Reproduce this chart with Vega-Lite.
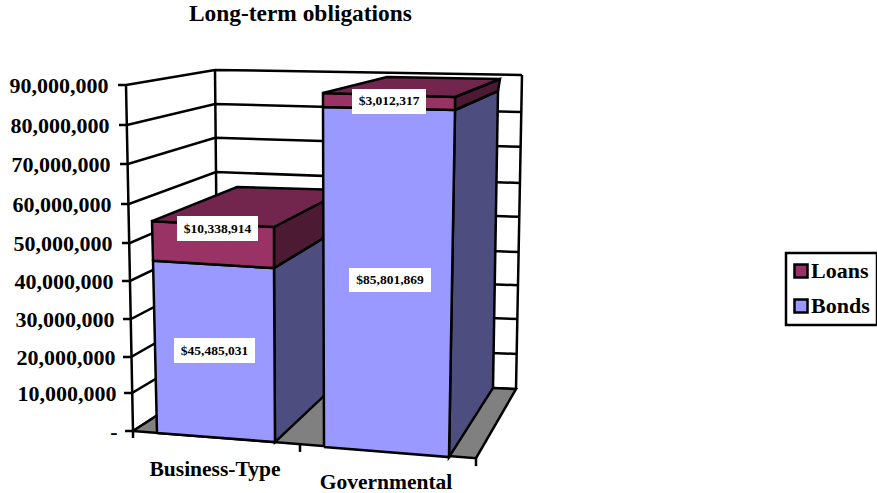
{"$schema":"https://vega.github.io/schema/vega-lite/v6.json","width":877,"height":493,"padding":0,"autosize":{"type":"none"},"background":"white","view":{"stroke":null},
"config":{"legend":{"strokeWidth":2.5}},
"title":{"text":"Long-term obligations","anchor":"start","dx":189,"dy":30,"font":"Liberation Serif","fontSize":23.4,"fontWeight":"bold","color":"black"},
"datasets":{
"lines":[
{"id":"L90","i":0,"x":11.8,"y":90},{"id":"L90","i":1,"x":12.6,"y":90},{"id":"L90","i":2,"x":21.5,"y":93.9},{"id":"L90","i":3,"x":52.2,"y":92.6},
{"id":"L80","i":0,"x":11.9,"y":80},{"id":"L80","i":1,"x":12.7,"y":80},{"id":"L80","i":2,"x":21.5,"y":85.25},{"id":"L80","i":3,"x":52.1,"y":83.25},
{"id":"L70","i":0,"x":12.0,"y":70},{"id":"L70","i":1,"x":12.8,"y":70},{"id":"L70","i":2,"x":21.5,"y":76.7},{"id":"L70","i":3,"x":52.1,"y":74.4},
{"id":"L60","i":0,"x":12.1,"y":60},{"id":"L60","i":1,"x":12.9,"y":60},{"id":"L60","i":2,"x":21.6,"y":68},{"id":"L60","i":3,"x":52.0,"y":65.25},
{"id":"L50","i":0,"x":12.2,"y":50},{"id":"L50","i":1,"x":13.0,"y":50},{"id":"L50","i":2,"x":21.6,"y":59.5},{"id":"L50","i":3,"x":51.9,"y":56.7},
{"id":"L40","i":0,"x":12.2,"y":40},{"id":"L40","i":1,"x":13.0,"y":40},{"id":"L40","i":2,"x":21.6,"y":50.8},{"id":"L40","i":3,"x":51.9,"y":47.6},
{"id":"L30","i":0,"x":12.3,"y":30},{"id":"L30","i":1,"x":13.1,"y":30},{"id":"L30","i":2,"x":21.7,"y":41.8},{"id":"L30","i":3,"x":51.8,"y":38.9},
{"id":"L20","i":0,"x":12.3,"y":20},{"id":"L20","i":1,"x":13.1,"y":20},{"id":"L20","i":2,"x":21.7,"y":32.9},{"id":"L20","i":3,"x":51.8,"y":30},
{"id":"L10","i":0,"x":12.4,"y":10},{"id":"L10","i":1,"x":13.2,"y":10},{"id":"L10","i":2,"x":21.7,"y":23.9},{"id":"L10","i":3,"x":51.7,"y":20.8},
{"id":"L0","i":0,"x":12.5,"y":0},{"id":"L0","i":1,"x":13.3,"y":0},{"id":"L0","i":2,"x":21.8,"y":14.7},{"id":"L0","i":3,"x":51.6,"y":11.1},
{"id":"edgeL","i":0,"x":12.6,"y":90},{"id":"edgeL","i":1,"x":13.3,"y":0},
{"id":"edgeB","i":0,"x":21.5,"y":93.9},{"id":"edgeB","i":1,"x":21.8,"y":14.7},
{"id":"edgeR","i":0,"x":52.2,"y":92.6},{"id":"edgeR","i":1,"x":51.6,"y":11.1},
{"id":"t1","i":0,"x":13.3,"y":0},{"id":"t1","i":1,"x":13.3,"y":-1.8},
{"id":"t2","i":0,"x":30,"y":-3.4},{"id":"t2","i":1,"x":30,"y":-5.4},
{"id":"t3","i":0,"x":47.6,"y":-7},{"id":"t3","i":1,"x":47.6,"y":-9.06}
],
"faces":[
{"poly":"a","shade":"Floor","i":0,"x":13.3,"y":0},{"poly":"a","shade":"Floor","i":1,"x":21.8,"y":14.7},{"poly":"a","shade":"Floor","i":2,"x":51.6,"y":11.1},{"poly":"a","shade":"Floor","i":3,"x":47.6,"y":-7},{"poly":"a","shade":"Floor","i":4,"x":13.3,"y":0},
{"poly":"b","shade":"Bonds side","i":0,"x":27.4,"y":43.4},{"poly":"b","shade":"Bonds side","i":1,"x":34.5,"y":54.6},{"poly":"b","shade":"Bonds side","i":2,"x":34.5,"y":14.7},{"poly":"b","shade":"Bonds side","i":3,"x":27.5,"y":-2.85},{"poly":"b","shade":"Bonds side","i":4,"x":27.4,"y":43.4},
{"poly":"c","shade":"Loans side","i":0,"x":27.4,"y":54.1},{"poly":"c","shade":"Loans side","i":1,"x":34.5,"y":63.5},{"poly":"c","shade":"Loans side","i":2,"x":34.5,"y":54.6},{"poly":"c","shade":"Loans side","i":3,"x":27.4,"y":43.4},{"poly":"c","shade":"Loans side","i":4,"x":27.4,"y":54.1},
{"poly":"d","shade":"Bonds","i":0,"x":15.7,"y":-0.5},{"poly":"d","shade":"Bonds","i":1,"x":27.5,"y":-2.85},{"poly":"d","shade":"Bonds","i":2,"x":27.4,"y":43.4},{"poly":"d","shade":"Bonds","i":3,"x":15.3,"y":45.3},{"poly":"d","shade":"Bonds","i":4,"x":15.7,"y":-0.5},
{"poly":"e","shade":"Loans","i":0,"x":15.3,"y":45.3},{"poly":"e","shade":"Loans","i":1,"x":27.4,"y":43.4},{"poly":"e","shade":"Loans","i":2,"x":27.4,"y":54.1},{"poly":"e","shade":"Loans","i":3,"x":15.2,"y":55.6},{"poly":"e","shade":"Loans","i":4,"x":15.3,"y":45.3},
{"poly":"f","shade":"Loans top","i":0,"x":15.2,"y":55.6},{"poly":"f","shade":"Loans top","i":1,"x":23.7,"y":64.25},{"poly":"f","shade":"Loans top","i":2,"x":34.5,"y":63.5},{"poly":"f","shade":"Loans top","i":3,"x":27.4,"y":54.1},{"poly":"f","shade":"Loans top","i":4,"x":15.2,"y":55.6},
{"poly":"g","shade":"Bonds side","i":0,"x":45.5,"y":83.75},{"poly":"g","shade":"Bonds side","i":1,"x":49.8,"y":88.5},{"poly":"g","shade":"Bonds side","i":2,"x":49.3,"y":11.4},{"poly":"g","shade":"Bonds side","i":3,"x":44.9,"y":-6.73},{"poly":"g","shade":"Bonds side","i":4,"x":45.5,"y":83.75},
{"poly":"h","shade":"Loans side","i":0,"x":45.5,"y":87},{"poly":"h","shade":"Loans side","i":1,"x":50,"y":91.55},{"poly":"h","shade":"Loans side","i":2,"x":49.8,"y":88.5},{"poly":"h","shade":"Loans side","i":3,"x":45.5,"y":83.75},{"poly":"h","shade":"Loans side","i":4,"x":45.5,"y":87},
{"poly":"j","shade":"Bonds","i":0,"x":32.4,"y":-4.14},{"poly":"j","shade":"Bonds","i":1,"x":44.9,"y":-6.73},{"poly":"j","shade":"Bonds","i":2,"x":45.5,"y":83.75},{"poly":"j","shade":"Bonds","i":3,"x":32.3,"y":84.5},{"poly":"j","shade":"Bonds","i":4,"x":32.4,"y":-4.14},
{"poly":"k","shade":"Loans","i":0,"x":32.3,"y":84.5},{"poly":"k","shade":"Loans","i":1,"x":45.5,"y":83.75},{"poly":"k","shade":"Loans","i":2,"x":45.5,"y":87},{"poly":"k","shade":"Loans","i":3,"x":32.3,"y":88},{"poly":"k","shade":"Loans","i":4,"x":32.3,"y":84.5},
{"poly":"m","shade":"Loans top","i":0,"x":32.3,"y":88},{"poly":"m","shade":"Loans top","i":1,"x":38.7,"y":92.07},{"poly":"m","shade":"Loans top","i":2,"x":50,"y":91.55},{"poly":"m","shade":"Loans top","i":3,"x":45.5,"y":87},{"poly":"m","shade":"Loans top","i":4,"x":32.3,"y":88}
],
"labels":[
{"value":45485031,"x":21.45,"y":21.7,"x1":17.4,"x2":25.5,"y1":18.33,"y2":25},
{"value":10338914,"x":21.75,"y":53.7,"x1":17.7,"x2":25.8,"y1":50.5,"y2":56.9},
{"value":85801869,"x":39.0,"y":40.26,"x1":34.9,"x2":43.1,"y1":37.1,"y2":43.4},
{"value":3012317,"x":38.9,"y":85.9,"x1":35.2,"x2":42.6,"y1":82.75,"y2":89}
],
"categories":[
{"name":"Business-Type","x":21.5,"y":-10},
{"name":"Governmental","x":38.6,"y":-13.5}
]},
"encoding":{
"x":{"field":"x","type":"quantitative","scale":{"domain":[0,87.7],"range":[0,877],"nice":false,"zero":false},"axis":null},
"y":{"field":"y","type":"quantitative","scale":{"domain":[-16,0,10,20,30,40,50,60,70,80,90,112],"range":[493,431,393,357,319,281,243,204,164,125,85,0],"nice":false,"zero":false},
"axis":{"title":null,"values":[0,10,20,30,40,50,60,70,80,90],"domain":false,"ticks":false,"grid":false,"offset":-108,"labelPadding":0,"labelFont":"Liberation Serif","labelFontWeight":"bold","labelFontSize":22,"labelColor":"black","labelOverlap":false,"labelExpr":"datum.value===0?'-':format(datum.value*1000000,',')","encoding":{"labels":{"dx":{"value":{"expr":"(90-datum.value)/90*9"}}}}}}
},
"layer":[
{"data":{"name":"lines"},"mark":{"type":"line","stroke":"black","strokeWidth":2.5,"clip":false},"encoding":{"detail":{"field":"id"},"order":{"field":"i"}}},
{"data":{"name":"faces"},"mark":{"type":"line","filled":true,"stroke":"black","strokeWidth":2.5,"strokeJoin":"miter"},
"encoding":{"detail":{"field":"poly"},"order":{"field":"i"},
"color":{"field":"shade","type":"nominal","scale":{"domain":["Loans","Bonds","Loans top","Loans side","Bonds side","Floor"],"range":["#993366","#9999FF","#73264D","#4D1A33","#4D4D80","#808080"]},
"legend":{"values":["Loans","Bonds"],"title":null,"orient":"none","legendX":786,"legendY":253,"padding":7,"strokeColor":"black","symbolType":"square","symbolSize":170,"symbolOffset":-3,"symbolStrokeColor":"black","symbolStrokeWidth":2.5,"labelFont":"Liberation Serif","labelFontWeight":"bold","labelFontSize":22,"labelColor":"black","labelOffset":-1,"rowPadding":11}}}},
{"data":{"name":"labels"},"mark":{"type":"rect","fill":"white"},"encoding":{"x":{"field":"x1","type":"quantitative"},"x2":{"field":"x2"},"y":{"field":"y1","type":"quantitative"},"y2":{"field":"y2"}}},
{"data":{"name":"labels"},"mark":{"type":"text","font":"Liberation Serif","fontWeight":"bold","fontSize":13.5,"color":"black"},"encoding":{"text":{"field":"value","type":"quantitative","format":"$,"}}},
{"data":{"name":"categories"},"mark":{"type":"text","font":"Liberation Serif","fontWeight":"bold","fontSize":21.5,"color":"black"},"encoding":{"text":{"field":"name"}}}
]}
